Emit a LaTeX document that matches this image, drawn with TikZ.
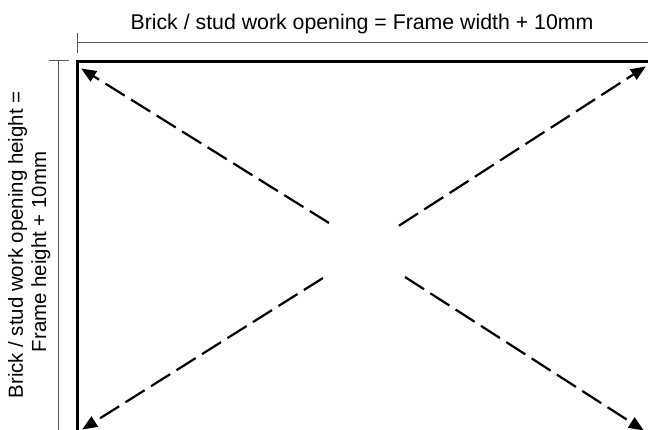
\documentclass[tikz,border=0pt]{standalone}
\usepackage{fontspec}
\setmainfont{Liberation Sans}
\usetikzlibrary{arrows.meta}
\tikzset{
  dimline/.style={draw=black!65,line width=1pt},
  frameline/.style={draw=black,line width=3pt},
  diag/.style={draw=black,line width=2.2pt,dash pattern=on 22.6pt off 7.5pt,-{Triangle[length=15pt,width=12pt]},shorten >=-1pt},
  toplbl/.style={inner sep=0pt,anchor=base,font=\fontsize{21.3pt}{24pt}\selectfont},
  sidelbl/.style={inner sep=0pt,anchor=base,rotate=90,font=\fontsize{20.4pt}{24pt}\selectfont}
}
\begin{document}
\begin{tikzpicture}[x=1pt,y=-1pt]
\useasboundingbox (0,0) rectangle (648,430);
% frame
\coordinate (ftl) at (77,62);
\coordinate (ftr) at (648,62);
\coordinate (fbl) at (77,430);
\draw[frameline] (ftr) -- (ftl) -- (fbl);
% dimension lines
\coordinate (da) at (77,43);
\coordinate (db) at (648,43);
\coordinate (dt1) at (77,33);
\coordinate (dt2) at (77,53);
\draw[dimline] (da) -- (db);
\draw[dimline] (dt1) -- (dt2);
\coordinate (ea) at (58.7,61);
\coordinate (eb) at (58.7,430);
\coordinate (et1) at (49,61);
\coordinate (et2) at (69,61);
\draw[dimline] (ea) -- (eb);
\draw[dimline] (et1) -- (et2);
% diagonals
\coordinate (c1) at (329,223);
\coordinate (t1) at (82,69);
\coordinate (c2) at (399,225.7);
\coordinate (t2) at (645,67);
\coordinate (c3) at (323,278);
\coordinate (t3) at (83,429);
\coordinate (c4) at (405,277);
\coordinate (t4) at (643,430);
\draw[diag] (c1) -- (t1);
\draw[diag] (c2) -- (t2);
\draw[diag] (c3) -- (t3);
\draw[diag] (c4) -- (t4);
% labels
\node[toplbl] (top) at (362,30) {Brick / stud work opening = Frame width + 10mm};
\node[sidelbl] (lefta) at (23,245) {Brick / stud work opening height =};
\node[sidelbl] (leftb) at (46,252) {Frame height + 10mm};
\end{tikzpicture}
\end{document}
